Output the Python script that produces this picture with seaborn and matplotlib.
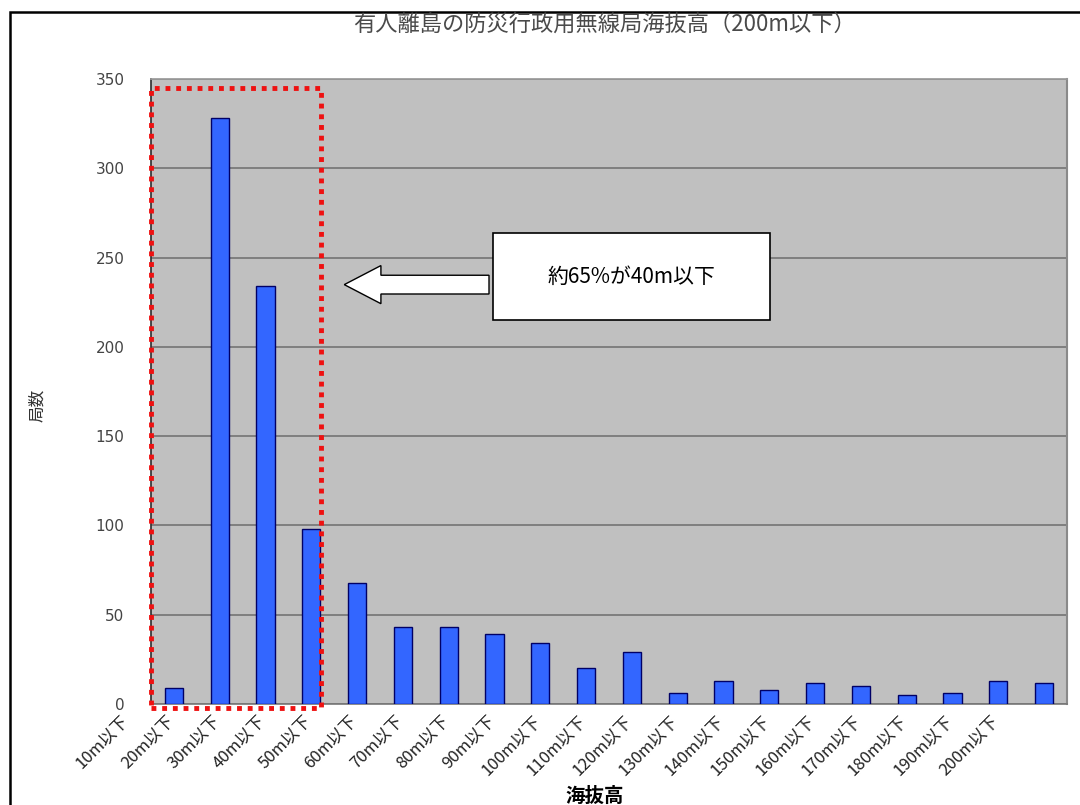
import matplotlib
matplotlib.use("Agg")
import matplotlib.pyplot as plt
import matplotlib.patches as mpatches
import matplotlib.transforms as mtrans
import seaborn as sns
import pandas as pd

# ---- data ----
categories = ["10m以下", "20m以下", "30m以下", "40m以下", "50m以下", "60m以下",
              "70m以下", "80m以下", "90m以下", "100m以下", "110m以下", "120m以下",
              "130m以下", "140m以下", "150m以下", "160m以下", "170m以下", "180m以下",
              "190m以下", "200m以下"]
counts = [9, 328, 234, 98, 68, 43, 43, 39, 34, 20, 29, 6, 13, 8, 12, 10, 5, 6, 13, 12]
yticks = [0, 50, 100, 150, 200, 250, 300, 350]
title = "有人離島の防災行政用無線局海抜高（200m以下）"
xlabel = "海抜高"
ylabel = "局数"
note = "約65%が40m以下"

sns.set_theme(style="white")
plt.rcParams['font.family'] = ['Noto Sans CJK JP', 'DejaVu Sans']

fig = plt.figure(figsize=(10.8, 8.05), dpi=100)
W, H = 1080, 805
ax = fig.add_axes([151 / W, (H - 704) / H, (1067 - 151) / W, (704 - 79) / H])
ax.set_facecolor("#C0C0C0")

df = pd.DataFrame({"cat": categories, "n": counts})
sns.barplot(data=df, x="cat", y="n", color="#3366FF", saturation=1, width=0.4,
            edgecolor="#000066", linewidth=1.0, ax=ax, zorder=3)

ax.set_ylim(0, 350)
ax.set_xlim(-0.5, len(categories) - 0.5)
ax.set_yticks(yticks)
ax.set_yticklabels([str(v) for v in yticks], color="#444444", fontsize=11,
                   family=['DejaVu Sans'])
ax.yaxis.grid(True, color="#7a7a7a", linewidth=1.3, zorder=1)
ax.set_axisbelow(True)
ax.tick_params(axis="y", length=0, pad=19)

# x ticks
ax.set_xticks(range(len(categories)))
ax.set_xticklabels(categories, rotation=45, ha="right", rotation_mode="anchor",
                   fontsize=12, color="#222222")
ax.tick_params(axis="x", length=0, pad=6)
offset = mtrans.ScaledTranslation(-0.54, 0, fig.dpi_scale_trans)
for lbl in ax.get_xticklabels():
    lbl.set_transform(lbl.get_transform() + offset)
ax.set_xticks([i + 0.5 for i in range(len(categories))], minor=True)
ax.tick_params(axis="x", which="minor", direction="in", length=3, width=1.5,
               color="#333333")

ax.set_xlabel("")
ax.set_ylabel("")

ax.spines["top"].set_color("#9a9a9a")
ax.spines["right"].set_color("#8a8a8a")
ax.spines["right"].set_linewidth(1.5)
ax.spines["left"].set_color("#333333")
ax.spines["bottom"].set_color("#777777")
ax.spines["bottom"].set_linewidth(1.2)

# red dotted highlight rectangle
rect = mpatches.Rectangle((-0.5, -2), 3.72, 347, fill=False, edgecolor="#EE1111",
                          linewidth=3.5, linestyle=(0, (1, 1.2)), clip_on=False,
                          zorder=5)
ax.add_patch(rect)

# annotation box + arrow (axes fraction coords)
box = mpatches.Rectangle((0.373, 0.615), 0.303, 0.138, transform=ax.transAxes,
                         facecolor="white", edgecolor="black", linewidth=1.2,
                         zorder=6)
ax.add_patch(box)
ax.text(0.525, 0.684, note, transform=ax.transAxes, ha="center", va="center",
        fontsize=15, color="black", zorder=7)
arrow = mpatches.FancyArrow(0.369, 0.671, -0.158, 0, width=0.030,
                            head_width=0.061, head_length=0.040,
                            length_includes_head=True, transform=ax.transAxes,
                            facecolor="white", edgecolor="black", linewidth=1.0,
                            zorder=6)
ax.add_patch(arrow)

# titles/labels
fig.text(604 / W, 1 - 24 / H, title, ha="center", va="center", fontsize=16,
         color="#4a4a4a")
fig.text(38 / W, 1 - 405 / H, ylabel, ha="center", va="center", rotation=90,
         fontsize=12, color="#333333")
fig.text(595 / W, 1 - 796 / H, xlabel, ha="center", va="center", fontsize=14,
         fontweight="bold", color="black")

# figure border
border = mpatches.Rectangle((10 / W, -0.05), 1.2, 1 - 12 / H + 0.05,
                            transform=fig.transFigure, fill=False,
                            edgecolor="black", linewidth=1.8, clip_on=False)
fig.patches.append(border)

fig.savefig("out.png", dpi=100)
